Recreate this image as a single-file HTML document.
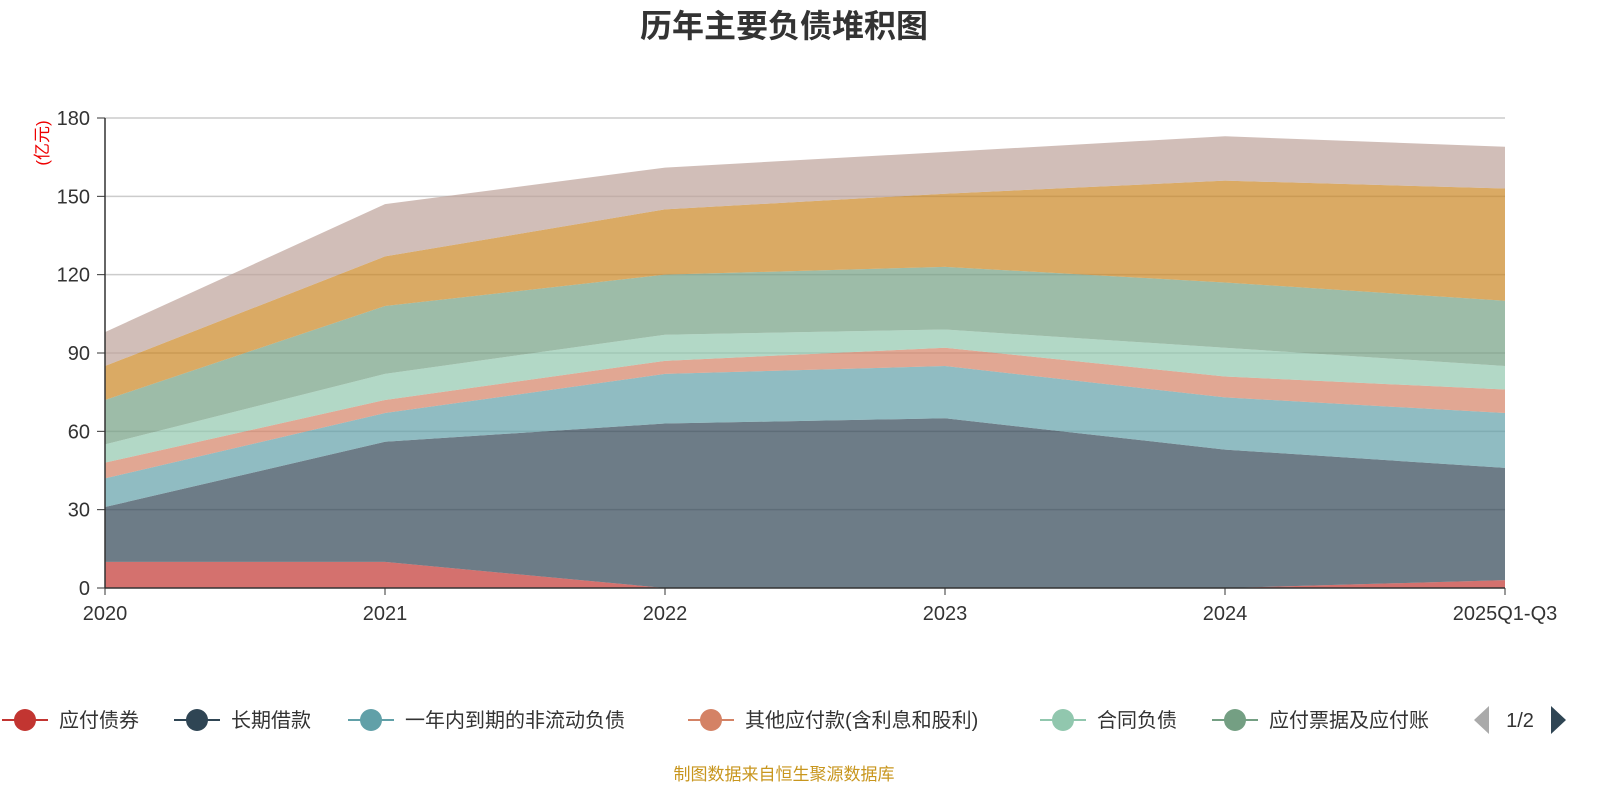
<!DOCTYPE html>
<html><head><meta charset="utf-8">
<style>
body{margin:0;background:#fff;width:1600px;height:800px;overflow:hidden;font-family:"Liberation Sans","Noto Sans CJK SC",sans-serif;}
</style></head>
<body>
<svg id="chart" width="1600" height="800" xmlns="http://www.w3.org/2000/svg" font-family="Liberation Sans, Noto Sans CJK SC, sans-serif">
<text x="784" y="37" text-anchor="middle" font-size="32" font-weight="bold" fill="#333">历年主要负债堆积图</text>
<text transform="translate(48,143) rotate(-90)" text-anchor="middle" font-size="17" fill="#e00">(亿元)</text>
<g id="grid"></g>
<g id="areas"></g>
<g id="axes"></g>
<g id="legend"></g>
<text x="784" y="780" text-anchor="middle" font-size="17" fill="#c8961e">制图数据来自恒生聚源数据库</text>
</svg>
<script>
const categories=["2020","2021","2022","2023","2024","2025Q1-Q3"];
const seriesNames=["应付债券","长期借款","一年内到期的非流动负债","其他应付款(含利息和股利)","合同负债","应付票据及应付账款","应付账款","其他"];
const s1=[10,10,0,0,0,3];
const s2=[21,46,63,65,53,43];
const s3=[11,11,19,20,20,21];
const s4=[6,5,5,7,8,9];
const s5=[7,10,10,7,11,9];
const s6=[17,26,23,24,25,25];
const s7=[13,19,25,28,39,43];
const s8=[13,20,16,16,17,16];
const yTicks=[0,30,60,90,120,150,180];
const colors=["#c23531","#2f4554","#61a0a8","#d48265","#91c7ae","#749f83","#ca8622","#bda29a"];
const series=[s1,s2,s3,s4,s5,s6,s7,s8];
const NS="http://www.w3.org/2000/svg";
const x0=105,x1=1505,yb=588,yt=118;
const xs=i=>x0+i*(x1-x0)/(categories.length-1);
const ys=v=>yb-(v/180)*(yb-yt);
function mk(tag,attrs,parent){const e=document.createElementNS(NS,tag);for(const k in attrs)e.setAttribute(k,attrs[k]);parent.appendChild(e);return e;}
const grid=document.getElementById('grid'),areas=document.getElementById('areas'),axes=document.getElementById('axes'),legend=document.getElementById('legend');
yTicks.forEach(t=>{
  if(t>0){const l=mk('line',{x1:x0,x2:x1,y1:ys(t),y2:ys(t),stroke:'#ccc','stroke-width':1.5},grid);
  
  }
  const tx=mk('text',{x:90,y:ys(t)+7,'text-anchor':'end','font-size':20,fill:'#333'},axes);tx.textContent=t;
  
  
  const tk=mk('line',{x1:97,x2:105,y1:ys(t),y2:ys(t),stroke:'#333'},axes);
  
  
});
let base=categories.map(()=>0);
series.forEach((s,k)=>{
  const top=base.map((b,i)=>b+s[i]);
  let d='M'+top.map((v,i)=>xs(i)+','+ys(v)).join(' L');
  for(let i=categories.length-1;i>=0;i--)d+=' L'+xs(i)+','+ys(base[i]);
  d+='Z';
  const p=mk('path',{d:d,fill:colors[k],'fill-opacity':0.7},areas);
  
  
  base=top;
});
const ax=mk('line',{x1:x0,x2:x1,y1:yb,y2:yb,stroke:'#333','stroke-width':1.5},axes);


const ay=mk('line',{x1:x0,x2:x0,y1:yt,y2:yb,stroke:'#333','stroke-width':1.5},axes);


categories.forEach((c,i)=>{
  const tk=mk('line',{x1:xs(i),x2:xs(i),y1:yb,y2:yb+7,stroke:'#333'},axes);
  
  
  const t=mk('text',{x:xs(i),y:620,'text-anchor':'middle','font-size':20,fill:'#333'},axes);t.textContent=c;
  
  
});
const legX=[2,174,348,688,1040,1212];
const legLabels=["应付债券","长期借款","一年内到期的非流动负债","其他应付款(含利息和股利)","合同负债","应付票据及应付账"];
legX.forEach((x,k)=>{
  const g=mk('g',{},legend);
  
  
  mk('line',{x1:x,x2:x+46,y1:720,y2:720,stroke:colors[k],'stroke-width':2},g);
  mk('circle',{cx:x+23,cy:720,r:11,fill:colors[k]},g);
  const t=mk('text',{x:x+57,y:727,'font-size':20,fill:'#333'},g);t.textContent=legLabels[k];
});
const pl=mk('path',{d:'M1489,706 L1489,734 L1474,720Z',fill:'#aaa'},legend);


const pt=mk('text',{x:1520,y:727,'text-anchor':'middle','font-size':20,fill:'#333'},legend);pt.textContent='1/2';


const pr=mk('path',{d:'M1551,706 L1551,734 L1566,720Z',fill:'#2f4554'},legend);


</script>
</body></html>
